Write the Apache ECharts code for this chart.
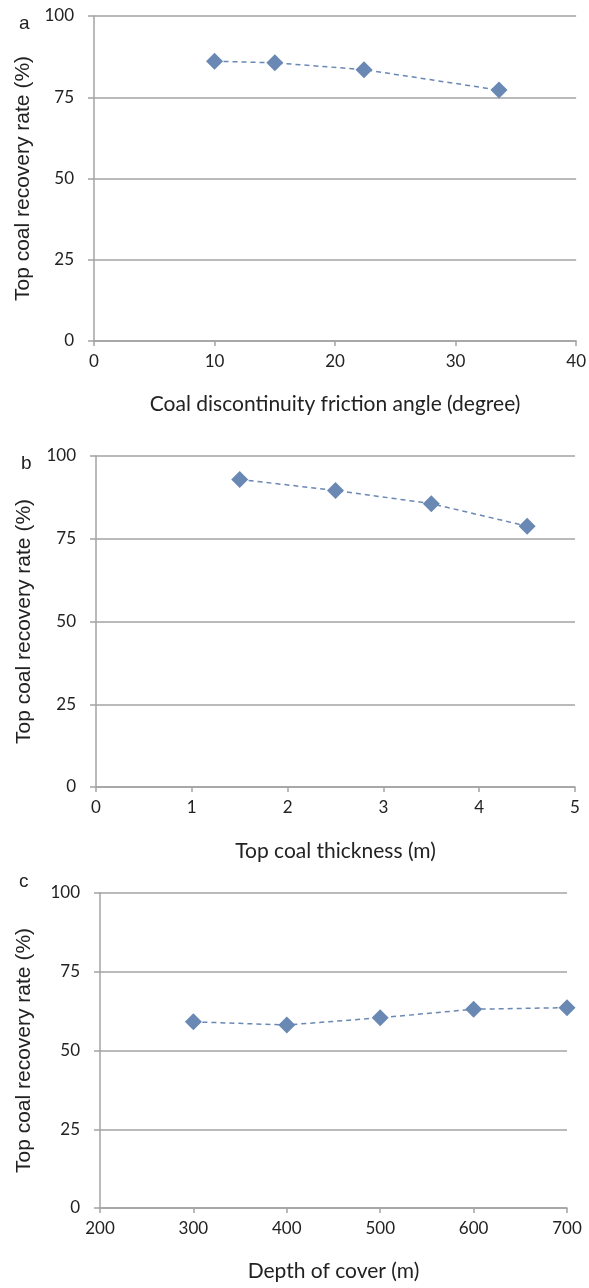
<!DOCTYPE html>
<html>
<head>
<meta charset="utf-8">
<script src="https://cdn.jsdelivr.net/npm/echarts@6/dist/echarts.min.js"></script>
<style>
  html, body { margin: 0; padding: 0; background: #fff; }
  #main { width: 589px; height: 1288px; }
</style>
</head>
<body>
<div id="main"></div>
<script>
// panel a: friction angle
var angleX = [10, 15, 22.4, 33.6];
var angleY = [86.1, 85.6, 83.5, 77.2];
// panel b: top coal thickness
var thickX = [1.5, 2.5, 3.5, 4.5];
var thickY = [92.9, 89.6, 85.6, 78.8];
// panel c: depth of cover
var depthX = [300, 400, 500, 600, 700];
var depthY = [59.1, 58.1, 60.4, 63.1, 63.6];

var yTitle = 'Top coal recovery rate (%)';
var xTitles = ['Coal discontinuity friction angle (degree)', 'Top coal thickness (m)', 'Depth of cover (m)'];
var panelNames = ['a', 'b', 'c'];

var LABEL_FONT = 'Lato';
var GRAY = '#a3a3a3';
var BLUE = '#6a88b4';

function pairs(xs, ys) {
    return xs.map(function (x, i) { return [x, ys[i]]; });
}

function xAxisOf(idx, min, max, step, gap) {
    return {
        type: 'value', gridIndex: idx, min: min, max: max, interval: step,
        name: xTitles[idx], nameLocation: 'middle', nameGap: gap,
        nameTextStyle: { fontFamily: LABEL_FONT, fontSize: 21, color: '#222' },
        axisLine: { lineStyle: { color: GRAY, width: 1.5 } },
        axisTick: { show: true, length: 5, lineStyle: { color: GRAY, width: 1.5 } },
        axisLabel: { fontFamily: LABEL_FONT, fontSize: 17, color: '#222', margin: 12 },
        splitLine: { show: false }
    };
}

function yAxisOf(idx, gap) {
    return {
        type: 'value', gridIndex: idx, min: 0, max: 100, interval: 25,
        name: yTitle, nameLocation: 'middle', nameGap: gap, nameRotate: 90,
        nameTextStyle: { fontFamily: 'Liberation Sans', fontSize: 21, color: '#222' },
        axisLine: { show: true, lineStyle: { color: GRAY, width: 1.5 } },
        axisTick: { show: true, length: 6, lineStyle: { color: GRAY, width: 1.5 } },
        axisLabel: { fontFamily: LABEL_FONT, fontSize: 17, color: '#222', margin: 20 },
        splitLine: { show: true, lineStyle: { color: GRAY, width: 1.5 } }
    };
}

function seriesOf(idx, data) {
    return {
        type: 'line', xAxisIndex: idx, yAxisIndex: idx, data: data,
        symbol: 'diamond', symbolSize: 17, showSymbol: true,
        itemStyle: { color: BLUE },
        lineStyle: { color: BLUE, width: 1.5, type: [5, 4] },
        silent: true, animation: false
    };
}

var chart = echarts.init(document.getElementById('main'));
chart.setOption({
    animation: false,
    backgroundColor: '#fff',
    title: panelNames.map(function (n, i) {
        return {
            text: n, left: [14, 16, 14][i], top: [9, 449, 867][i],
            textStyle: { fontFamily: 'Liberation Sans', fontSize: 19, fontWeight: 'normal', color: '#222' }
        };
    }),
    grid: [
        { left: 94, right: 11, top: 16, height: 325 },
        { left: 96, right: 14, top: 456, height: 331 },
        { left: 100, right: 22, top: 893, height: 315 }
    ],
    xAxis: [
        xAxisOf(0, 0, 40, 10, 53),
        xAxisOf(1, 0, 5, 1, 54),
        xAxisOf(2, 200, 700, 100, 53)
    ],
    yAxis: [yAxisOf(0, 60), yAxisOf(1, 61), yAxisOf(2, 65)],
    series: [
        seriesOf(0, pairs(angleX, angleY)),
        seriesOf(1, pairs(thickX, thickY)),
        seriesOf(2, pairs(depthX, depthY))
    ]
});
</script>
</body>
</html>
